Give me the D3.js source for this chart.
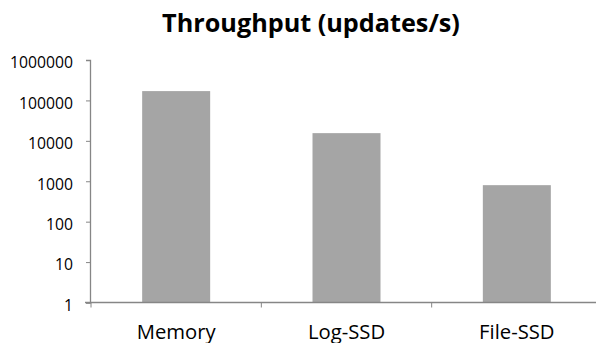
<!DOCTYPE html>
<html><head><meta charset="utf-8">
<script src="https://cdn.jsdelivr.net/npm/d3@7"></script>
<style>body{margin:0;background:#fff}svg{display:block}text{font-family:"Open Sans",Lato,sans-serif}</style>
</head><body><svg id="c" width="596" height="343"></svg>
<script>
const title = "Throughput (updates/s)";
const categories = ["Memory", "Log-SSD", "File-SSD"];
const values = [170000, 15500, 800];
const yTicks = [1, 10, 100, 1000, 10000, 100000, 1000000];

(function () {
const svg = d3.select("#c");
const mLeft = 90, mRight = 602, mTop = 60, mBottom = 302.5;

const x = d3.scaleBand().domain(categories).range([mLeft + 1, mRight]).paddingInner(0).paddingOuter(0);
const y = d3.scaleLog().domain([1, 1000000]).range([mBottom, mTop]);
const barW = 68;

function fit(sel, target, base) {
  sel.attr("font-size", base);
  const w = sel.node().getComputedTextLength();
  return base * target / w;
}

const t = svg.append("text").attr("x", 311).attr("y", 32).attr("text-anchor", "middle")
  .attr("font-weight", "bold").attr("fill", "#000").text(title);
t.attr("font-size", fit(t, 298, 20));

svg.selectAll("rect.bar").data(categories).enter().append("rect")
  .attr("class", "bar")
  .attr("x", (d) => x(d) + x.bandwidth() / 2 - barW / 2)
  .attr("width", barW)
  .attr("y", (d, i) => y(values[i]))
  .attr("height", (d, i) => mBottom - y(values[i]))
  .attr("fill", "#a5a5a5");

const yAxis = d3.axisLeft(y).tickValues(yTicks).tickFormat(d3.format("d")).tickSize(4).tickPadding(13);
const gy = svg.append("g").attr("transform", `translate(${mLeft},0)`).call(yAxis);
gy.attr("font-family", null).attr("font-size", null);
gy.select(".domain").attr("stroke", "#868686").attr("stroke-width", 1.3);
gy.selectAll(".tick line").attr("stroke", "#868686");
const yt = gy.selectAll(".tick text").attr("fill", "#000").attr("dy", "0.5em");
const ySize = fit(gy.selectAll(".tick text").filter((d) => d === 1000000), 63, 14);
yt.attr("font-size", ySize);

const xAxis = d3.axisBottom(x).tickSize(0).tickPadding(0);
const gx = svg.append("g").attr("transform", `translate(0,${mBottom})`).call(xAxis);
gx.attr("font-family", null).attr("font-size", null);
gx.select(".domain").remove();
gx.append("line").attr("x1", mLeft - 5).attr("x2", 596).attr("y1", 0).attr("y2", 0)
  .attr("stroke", "#868686").attr("stroke-width", 1.3);
gx.selectAll(".cat-tick").data(categories).enter().append("line").attr("class", "cat-tick")
  .attr("x1", (d) => x(d)).attr("x2", (d) => x(d)).attr("y1", 0).attr("y2", 5)
  .attr("stroke", "#868686");
const xt = gx.selectAll(".tick text").attr("fill", "#000").attr("dy", null).attr("y", 36);
const xSize = fit(gx.selectAll(".tick text").filter((d) => d === "Memory"), 79, 16);
xt.attr("font-size", xSize);
})();
</script></body></html>
